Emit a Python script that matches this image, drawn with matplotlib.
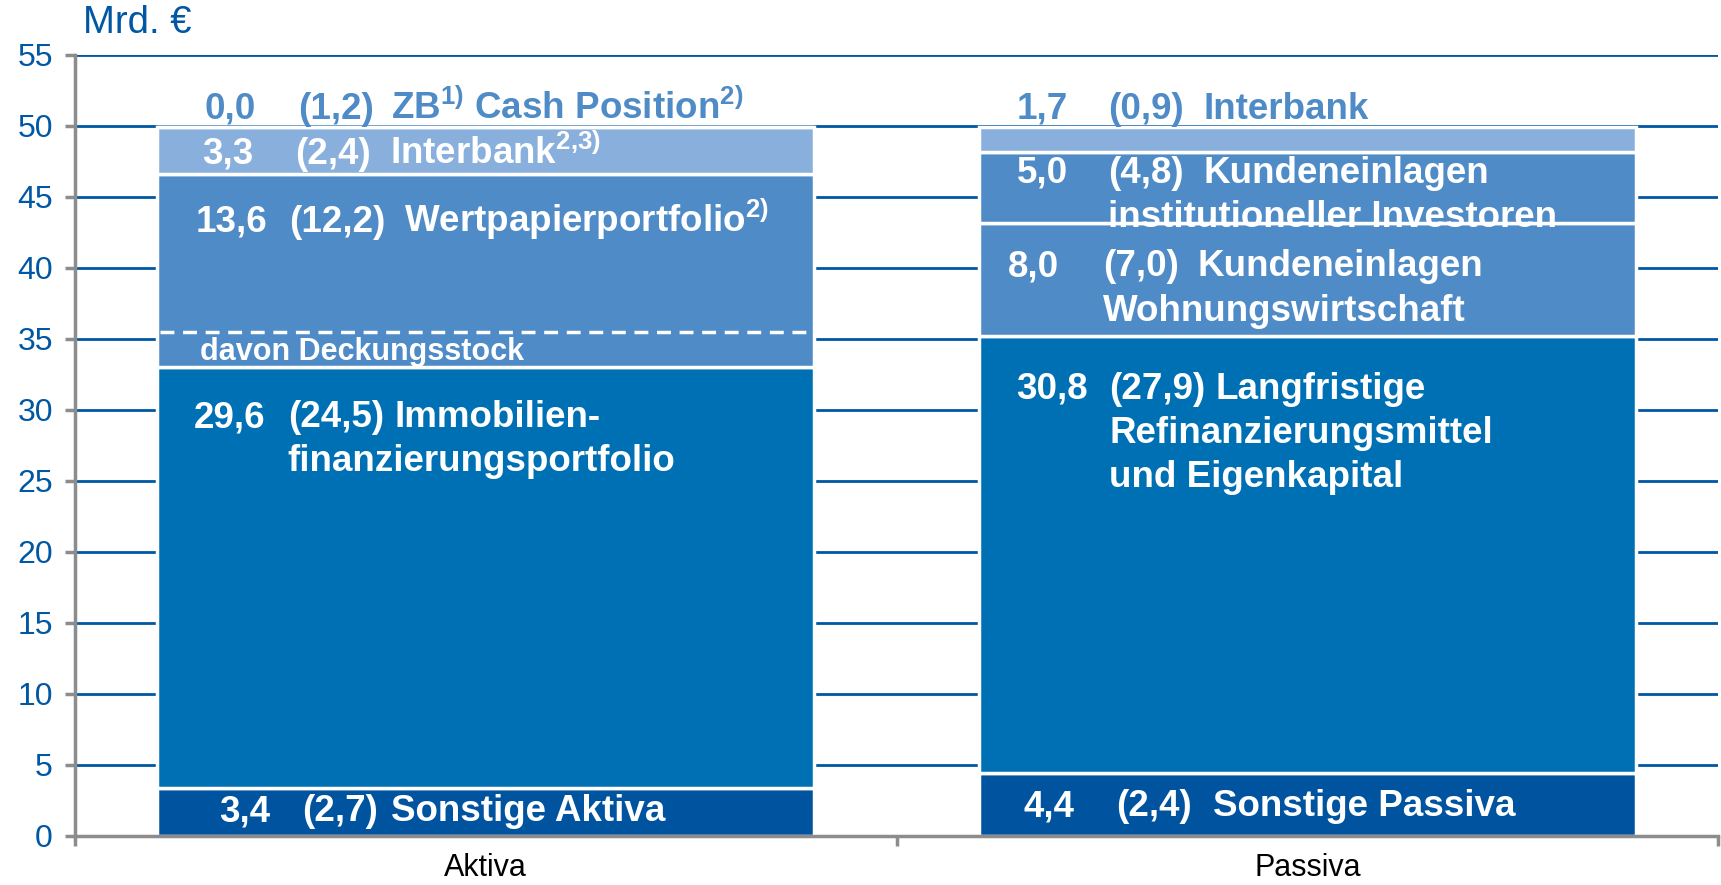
import matplotlib
matplotlib.use("Agg")
import matplotlib.pyplot as plt

plt.rcParams['font.family'] = ['Liberation Sans', 'DejaVu Sans']
plt.rcParams['mathtext.fontset'] = 'custom'
plt.rcParams['mathtext.rm'] = 'Liberation Sans:bold'
plt.rcParams['mathtext.it'] = 'Liberation Sans:bold'
plt.rcParams['mathtext.bf'] = 'Liberation Sans:bold'

# Daten (Mrd. EUR), von unten nach oben gestapelt
kategorien = ["Aktiva", "Passiva"]
aktiva_werte = [3.4, 29.6, 13.6, 3.3, 0.0]
aktiva_vorjahr = [2.7, 24.5, 12.2, 2.4, 1.2]
aktiva_namen = ["Sonstige Aktiva",
                "Immobilien-\nfinanzierungsportfolio",
                r"Wertpapierportfolio$^{2)}$",
                r"Interbank$^{2{,}3)}$",
                r"ZB$^{1)}$ Cash Position$^{2)}$"]
passiva_werte = [4.4, 30.8, 8.0, 5.0, 1.7]
passiva_vorjahr = [2.4, 27.9, 7.0, 4.8, 0.9]
passiva_namen = ["Sonstige Passiva",
                 "Langfristige\nRefinanzierungsmittel\nund Eigenkapital",
                 "Kundeneinlagen\nWohnungswirtschaft",
                 "Kundeneinlagen\ninstitutioneller Investoren",
                 "Interbank"]
deckungsstock = 2.5   # Anteil im Wertpapierportfolio (gestrichelte Linie)

# Farben / Layout
dunkel = '#00549F'
gross = '#0070B4'
mittel = '#4F8BC6'
hell = '#89B0DC'
blau_text = '#0057A3'
grau = '#8C8C8C'
aktiva_farben = [dunkel, gross, mittel, hell, hell]
passiva_farben = [dunkel, gross, mittel, mittel, hell]

# (x Zahl, x Vorjahr, x Name, y Grundlinie) je Segment
aktiva_pos = [(-0.325, -0.223, -0.115, 1.03),
              (-0.355, -0.241, -0.111, 28.8),
              (-0.353, -0.240, -0.099, 42.55),
              (-0.345, -0.232, -0.116, 47.35),
              (-0.342, -0.229, -0.115, 50.5)]
passiva_pos = [(0.654, 0.767, 0.885, 1.4),
               (0.646, 0.759, 0.888, 30.8),
               (0.636, 0.751, 0.866, 39.4),
               (0.646, 0.757, 0.874, 46.0),
               (0.646, 0.757, 0.874, 50.5)]
zeilen_abstand = 3.1
fs = 26.5


def fmt(v):
    return f"{v:.1f}".replace(".", ",")


fig = plt.figure(figsize=(17.21, 8.85), dpi=100)
ax = fig.add_axes([0.0436, 0.0554, 0.9547, 0.8825])

saeulen = [(aktiva_werte, aktiva_vorjahr, aktiva_namen, aktiva_farben, aktiva_pos),
           (passiva_werte, passiva_vorjahr, passiva_namen, passiva_farben, passiva_pos)]

patches_aktiva = []
for xi, (werte, vorjahr, namen, farben, pos) in enumerate(saeulen):
    unten = 0.0
    for w, vj, name, farbe, (xz, xv, xn, yb) in zip(werte, vorjahr, namen, farben, pos):
        bar = ax.bar(xi, w, bottom=unten, width=0.8, color=farbe,
                     edgecolor='white', linewidth=2.5, zorder=2)
        patch = bar.patches[0]
        if xi == 0:
            patches_aktiva.append(patch)
        innen = w >= 2
        col = 'white' if innen else mittel
        texte = []
        texte.append(ax.text(xz, yb, fmt(w), color=col, fontsize=fs,
                             fontweight='bold', va='baseline', zorder=4))
        texte.append(ax.text(xv, yb, f"({fmt(vj)})", color=col, fontsize=fs,
                             fontweight='bold', va='baseline', zorder=4))
        zeilen = name.split("\n")
        texte.append(ax.text(xn, yb, zeilen[0], color=col, fontsize=fs,
                             fontweight='bold', va='baseline', zorder=4))
        for k, z in enumerate(zeilen[1:], start=1):
            texte.append(ax.text(xv, yb - k * zeilen_abstand, z, color=col,
                                 fontsize=fs, fontweight='bold',
                                 va='baseline', zorder=4))
        if innen:
            for t in texte:
                t.set_clip_path(patch)
        unten += w

# davon Deckungsstock
wp = patches_aktiva[2]
y_ds = wp.get_y() + deckungsstock
ax.hlines(y_ds, wp.get_x() + 0.004, wp.get_x() + wp.get_width() - 0.004,
          colors='white', linewidth=2.5, linestyles=(0, (4, 2.5)), zorder=3)
ax.text(-0.348, y_ds - 2.0, "davon Deckungsstock", color='white',
        fontsize=22, fontweight='bold', va='baseline', zorder=4)

ax.set_xlim(-0.5, 1.5)
ax.set_ylim(0, 55)
ax.set_yticks(range(0, 56, 5))
ax.set_xticks([0, 1], kategorien)
ax.set_xticks([-0.5, 0.5, 1.5], minor=True)
ax.yaxis.grid(True, color=blau_text, linewidth=2)
ax.set_axisbelow(True)
for s in ['top', 'right']:
    ax.spines[s].set_visible(False)
for s in ['left', 'bottom']:
    ax.spines[s].set_color(grau)
    ax.spines[s].set_linewidth(2.5)
ax.tick_params(axis='y', color=grau, labelcolor=blau_text, length=7,
               width=2.5, labelsize=23, pad=9)
ax.tick_params(axis='x', which='major', length=0, labelsize=22, pad=12)
ax.tick_params(axis='x', which='minor', length=7, width=2.5, color=grau)

fig.text(0.048, 0.974, "Mrd. €", color=blau_text, fontsize=27.5, va='center')

fig.savefig("out.png", dpi=100)
